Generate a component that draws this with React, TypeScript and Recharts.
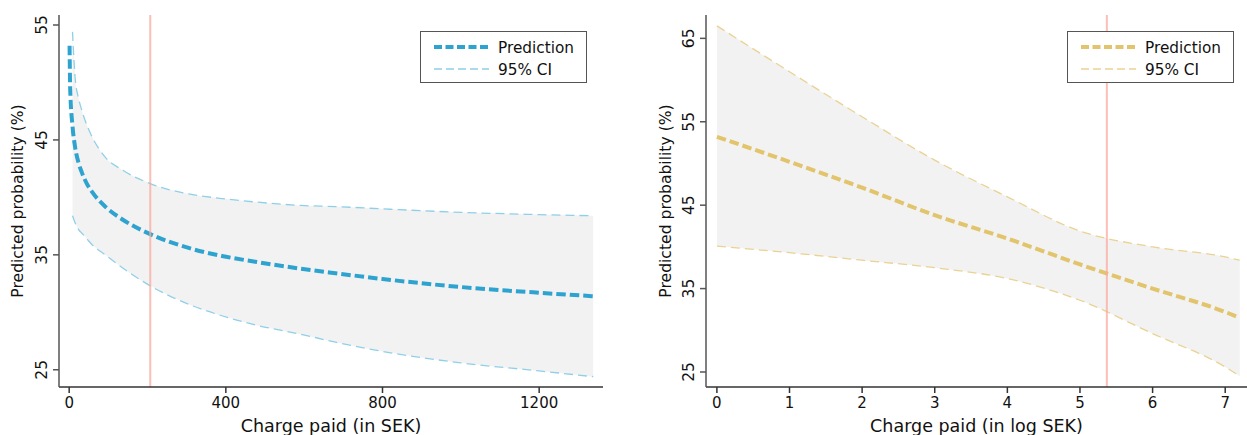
import React from "react";
import {
  ComposedChart, Line, Area, XAxis, YAxis, ReferenceLine, Legend, Label,
} from "recharts";

// ─── Left panel: charge paid in SEK ───────────────────────────────────────────
const SEK_X = [1, 2.5, 8.5, 15, 24, 32, 45, 58, 92, 135, 207, 305, 390, 475, 590, 680, 800, 1000, 1200, 1338];
const SEK_PRED = [53.2, 49.5, 46.2, 44.4, 43.0, 42.2, 41.2, 40.5, 39.2, 38.1, 36.8, 35.6, 34.9, 34.4, 33.8, 33.4, 32.9, 32.2, 31.7, 31.4];
const SEK_LO = [null, null, 38.4, 37.8, 37.2, 36.9, 36.4, 35.9, 35.0, 33.9, 32.3, 30.7, 29.7, 28.9, 28.1, 27.4, 26.6, 25.6, 24.9, 24.4];
const SEK_HI = [null, null, 54.4, 50.5, 48.6, 47.6, 46.3, 45.3, 43.5, 42.4, 41.2, 40.3, 39.9, 39.6, 39.3, 39.2, 39.0, 38.7, 38.5, 38.4];
const SEK_XTICKS = [0, 400, 800, 1200];
const SEK_YTICKS = [25, 35, 45, 55];
const SEK_MEAN = 207;

// ─── Right panel: charge paid in log SEK ──────────────────────────────────────
const LOG_X = [0, 1, 2, 3, 4, 5, 6, 7, 7.2];
const LOG_PRED = [53.2, 50.2, 47.1, 43.8, 41.0, 37.9, 35.0, 32.2, 31.5];
const LOG_LO = [40.1, 39.3, 38.4, 37.5, 36.2, 33.6, 29.6, 25.6, 24.5];
const LOG_HI = [66.5, 61.0, 55.6, 50.4, 46.0, 41.9, 40.0, 38.8, 38.4];
const LOG_XTICKS = [0, 1, 2, 3, 4, 5, 6, 7];
const LOG_YTICKS = [25, 35, 45, 55, 65];
const LOG_MEAN = 5.37;

const FONT = "'DejaVu Sans', Verdana, sans-serif";

const build = (xs: number[], pred: number[], lo: (number | null)[], hi: (number | null)[]) =>
  xs.map((x, i) => ({
    x,
    pred: pred[i],
    lo: lo[i],
    hi: hi[i],
    band: lo[i] != null && hi[i] != null ? [lo[i], hi[i]] : null,
  }));

const sekData = build(SEK_X, SEK_PRED, SEK_LO, SEK_HI);
const logData = build(LOG_X, LOG_PRED, LOG_LO, LOG_HI);

const YTick = ({ x, y, payload }: any) => (
  <text
    x={x - 4}
    y={y}
    transform={`rotate(-90 ${x - 4} ${y})`}
    textAnchor="middle"
    fontSize={15.5}
    fontFamily={FONT}
    fill="#111"
  >
    {payload.value}
  </text>
);

const YTitle = ({ cx }: { cx: number }) => (props: any) => {
  const vb = props.viewBox;
  const cy = vb.y + vb.height / 2;
  return (
    <text
      x={cx}
      y={cy}
      transform={`rotate(-90 ${cx} ${cy})`}
      textAnchor="middle"
      dominantBaseline="central"
      fontSize={15.6}
      fontFamily={FONT}
      fill="#111"
    >
      Predicted probability (%)
    </text>
  );
};

const makeLegend = (main: string, ci: string) => () => (
  <div
    style={{
      width: 165,
      height: 50,
      border: "1px solid #555",
      background: "#fff",
      position: "relative",
    }}
  >
    <svg width={165} height={50} style={{ position: "absolute", left: 0, top: 0 }}>
      <line x1={13} x2={68} y1={15} y2={15} stroke={main} strokeWidth={4} strokeDasharray="8 3.5" />
      <line x1={13} x2={68} y1={37} y2={37} stroke={ci} strokeWidth={1.3} strokeDasharray="8 4" />
      <text x={77} y={20.5} fontSize={15.3} fontFamily={FONT} fill="#111">Prediction</text>
      <text x={77} y={42.5} fontSize={15.3} fontFamily={FONT} fill="#111">95% CI</text>
    </svg>
  </div>
);

interface PanelProps {
  data: any[];
  width: number;
  yWidth: number;
  right: number;
  xDomain: [number, number];
  yDomain: [number, number];
  xTicks: number[];
  yTicks: number[];
  mean: number;
  main: string;
  ci: string;
  xTitle: string;
  yTitleX: number;
  legendLeft: number;
  frameRight: boolean;
}

function Panel(p: PanelProps) {
  return (
    <ComposedChart
      width={p.width}
      height={435}
      data={p.data}
      margin={{ top: 15, right: p.right, left: 0, bottom: 0 }}
    >
      <XAxis
        dataKey="x"
        type="number"
        domain={p.xDomain}
        ticks={p.xTicks}
        allowDataOverflow
        height={48}
        tickSize={6}
        tickMargin={4}
        stroke="#333"
        strokeWidth={1.5}
        tick={{ fontSize: 15, fontFamily: FONT, fill: "#111" }}
      >
        <Label value={p.xTitle} position="insideBottom" offset={3} fontSize={17.5} fontFamily={FONT} fill="#111" />
      </XAxis>
      <XAxis
        xAxisId="top"
        orientation="top"
        dataKey="x"
        type="number"
        domain={p.xDomain}
        height={0}
        tick={false}
        tickLine={false}
        stroke="#222"
      />
      <YAxis
        type="number"
        domain={p.yDomain}
        ticks={p.yTicks}
        allowDataOverflow
        width={p.yWidth}
        tickSize={6}
        stroke="#555"
        strokeWidth={1.5}
        tick={<YTick />}
      >
        <Label content={YTitle({ cx: p.yTitleX })} />
      </YAxis>
      {p.frameRight && (
        <YAxis
          yAxisId="r"
          orientation="right"
          type="number"
          domain={p.yDomain}
          width={0}
          tick={false}
          tickLine={false}
          stroke="#222"
        />
      )}
      <Area
        dataKey="band"
        type="monotone"
        fill="#f2f2f2"
        fillOpacity={1}
        stroke="none"
        isAnimationActive={false}
        legendType="none"
      />
      <Line
        dataKey="hi"
        type="monotone"
        stroke={p.ci}
        strokeWidth={1.3}
        strokeDasharray="9 5"
        dot={false}
        connectNulls
        isAnimationActive={false}
      />
      <Line
        dataKey="lo"
        type="monotone"
        stroke={p.ci}
        strokeWidth={1.3}
        strokeDasharray="9 5"
        dot={false}
        connectNulls
        isAnimationActive={false}
      />
      <Line
        dataKey="pred"
        type="monotone"
        stroke={p.main}
        strokeWidth={4}
        strokeDasharray="9.5 4"
        dot={false}
        isAnimationActive={false}
      />
      <ReferenceLine x={p.mean} stroke="#f9a99f" strokeOpacity={0.75} strokeWidth={2} />
      <Legend
        layout="horizontal"
        verticalAlign="middle"
        align="center"
        content={makeLegend(p.main, p.ci)}
        wrapperStyle={{ left: p.legendLeft, top: 31, width: 167, height: 52 }}
      />
    </ComposedChart>
  );
}

export default function App() {
  return (
    <div
      style={{
        position: "absolute",
        left: 0,
        top: 0,
        width: 1247,
        height: 435,
        background: "#fff",
        overflow: "hidden",
        fontFamily: FONT,
      }}
    >
      <div style={{ position: "absolute", left: 0, top: 0 }}>
        <Panel
          data={sekData}
          width={620}
          yWidth={59}
          right={17}
          xDomain={[-26, 1363]}
          yDomain={[23.5, 55.87]}
          xTicks={SEK_XTICKS}
          yTicks={SEK_YTICKS}
          mean={SEK_MEAN}
          main="#2fa3cf"
          ci="#8fd0e8"
          xTitle="Charge paid (in SEK)"
          yTitleX={18}
          legendLeft={420}
          frameRight
        />
      </div>
      <div style={{ position: "absolute", left: 640, top: 0 }}>
        <Panel
          data={logData}
          width={607}
          yWidth={66}
          right={0}
          xDomain={[-0.15, 7.3]}
          yDomain={[23.2, 67.8]}
          xTicks={LOG_XTICKS}
          yTicks={LOG_YTICKS}
          mean={LOG_MEAN}
          main="#e2c46c"
          ci="#ead292"
          xTitle="Charge paid (in log SEK)"
          yTitleX={25.5}
          legendLeft={427}
          frameRight={false}
        />
      </div>
    </div>
  );
}
